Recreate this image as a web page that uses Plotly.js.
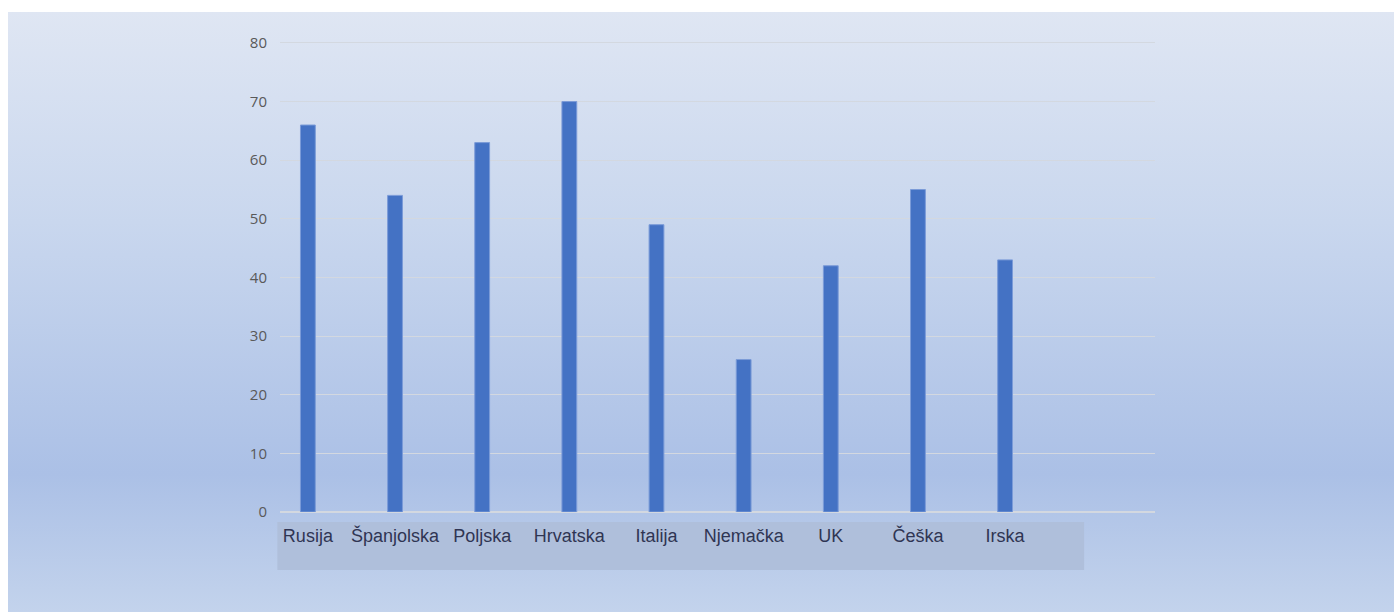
<!DOCTYPE html>
<html>
<head>
<meta charset="utf-8">
<script src="https://cdn.plot.ly/plotly-3.0.1.min.js"></script>
<style>
  html, body { margin: 0; padding: 0; background: #ffffff; }
  #bg { position: absolute; left: 8px; top: 12px; width: 1386px; height: 600px;
        background: linear-gradient(to bottom, #dfe6f3 0%, #c9d7ee 35%, #abc0e6 77%, #c3d3ec 100%); }
  #chart { position: absolute; left: 0; top: 0; width: 1394px; height: 612px; }
</style>
</head>
<body>
<div id="bg"></div>
<div id="chart"></div>
<script>
const categories = ["Rusija", "Španjolska", "Poljska", "Hrvatska", "Italija", "Njemačka", "UK", "Češka", "Irska"];
const values = [66, 54, 63, 70, 49, 26, 42, 55, 43];
const yTicks = [0, 10, 20, 30, 40, 50, 60, 70, 80];

const trace = {
  type: "bar",
  x: categories,
  y: values,
  width: 0.17,
  marker: { color: "#4472c4", line: { color: "#7b9bd8", width: 1 } },
  hoverinfo: "x+y"
};

const layout = {
  width: 1394,
  height: 612,
  margin: { l: 280, r: 239, t: 40, b: 100 },
  paper_bgcolor: "rgba(0,0,0,0)",
  plot_bgcolor: "rgba(0,0,0,0)",
  showlegend: false,
  xaxis: {
    type: "category",
    categoryorder: "array",
    categoryarray: categories,
    range: [-0.32, 9.72],
    showgrid: false,
    zeroline: false,
    showline: false,
    ticks: "",
    ticklabelstandoff: 11,
    tickfont: { family: "Liberation Sans, Arial, sans-serif", size: 18, color: "#2f3553" }
  },
  yaxis: {
    range: [0, 80.5],
    tickvals: yTicks,
    ticktext: yTicks.map(String),
    showgrid: true,
    gridcolor: "#d3d8e0",
    gridwidth: 1,
    zeroline: true,
    zerolinecolor: "#d3d8e0",
    zerolinewidth: 2,
    showline: false,
    ticks: "",
    ticklabelstandoff: 12,
    tickfont: { family: "Open Sans, Liberation Sans, sans-serif", size: 15, color: "#595959" }
  },
  shapes: [{
    type: "rect",
    xref: "paper", yref: "paper",
    x0: -0.003, x1: 0.919, y0: -0.0212, y1: -0.1229,
    fillcolor: "#afbfdb",
    line: { width: 0 },
    layer: "below"
  }]
};

Plotly.newPlot("chart", [trace], layout, { displayModeBar: false, staticPlot: true });
</script>
</body>
</html>
